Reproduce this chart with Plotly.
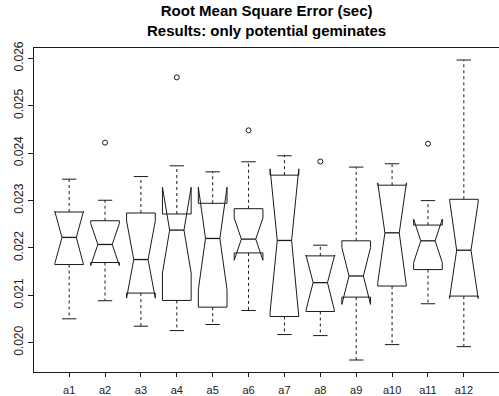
import plotly.graph_objects as go

# Summary statistics per group (seconds)
groups = ["a1", "a2", "a3", "a4", "a5", "a6", "a7", "a8", "a9", "a10", "a11", "a12"]
lower_whisker = [0.020502, 0.020884, 0.020346, 0.020254, 0.020382, 0.020678,
                 0.020170, 0.020148, 0.019633, 0.019958, 0.020820, 0.019915]
q1 = [0.021647, 0.021690, 0.021045, 0.020890, 0.020748, 0.021893,
      0.020551, 0.020657, 0.020960, 0.021194, 0.021541, 0.020982]
median = [0.022220, 0.022071, 0.021753, 0.022374, 0.022198, 0.022184,
          0.022156, 0.021266, 0.021406, 0.022317, 0.022148, 0.021950]
q3 = [0.022756, 0.022572, 0.022735, 0.022714, 0.022940, 0.022826,
      0.023534, 0.021830, 0.022148, 0.023322, 0.022480, 0.023025]
upper_whisker = [0.023449, 0.023004, 0.023504, 0.023731, 0.023604, 0.023816,
                 0.023943, 0.022056, 0.023704, 0.023774, 0.022996, 0.025964]
# half-length of the notch around the median (1.58 * IQR / sqrt(n))
notch_half = [0.000551, 0.000445, 0.000814, 0.000905, 0.001081, 0.000445,
              0.001512, 0.000583, 0.000600, 0.001054, 0.000460, 0.001018]
outlier_group = ["a2", "a4", "a6", "a8", "a11"]
outlier_value = [0.024220, 0.025597, 0.024480, 0.023822, 0.024198]

tick_values = [0.020, 0.021, 0.022, 0.023, 0.024, 0.025, 0.026]
tick_labels = ["0.020", "0.021", "0.022", "0.023", "0.024", "0.025", "0.026"]

title_lines = ["Root Mean Square Error (sec)", "Results: only potential geminates"]

W = 0.4  # half box width (boxwex 0.8)
INK = "#1a1a1a"
FONT = "Liberation Sans, Arial, Helvetica, sans-serif"

box_x, box_y = [], []
med_x, med_y = [], []
wh_x, wh_y = [], []
st_x, st_y = [], []
for i, g in enumerate(groups):
    x = i + 1
    nlo = median[i] - notch_half[i]
    nhi = median[i] + notch_half[i]
    box_x += [x - W, x - W, x - W / 2, x - W, x - W, x + W, x + W, x + W / 2, x + W, x + W, x - W, None]
    box_y += [q1[i], nlo, median[i], nhi, q3[i], q3[i], nhi, median[i], nlo, q1[i], q1[i], None]
    med_x += [x - W / 2, x + W / 2, None]
    med_y += [median[i], median[i], None]
    wh_x += [x, x, None, x, x, None]
    wh_y += [q1[i], lower_whisker[i], None, q3[i], upper_whisker[i], None]
    st_x += [x - W / 2, x + W / 2, None, x - W / 2, x + W / 2, None]
    st_y += [lower_whisker[i], lower_whisker[i], None, upper_whisker[i], upper_whisker[i], None]

fig = go.Figure()
fig.add_trace(go.Scatter(x=wh_x, y=wh_y, mode="lines",
                         line=dict(color=INK, width=1, dash="3px,3px")))
fig.add_trace(go.Scatter(x=st_x, y=st_y, mode="lines", line=dict(color=INK, width=1)))
fig.add_trace(go.Scatter(x=box_x, y=box_y, mode="lines", line=dict(color=INK, width=1)))
fig.add_trace(go.Scatter(x=med_x, y=med_y, mode="lines", line=dict(color=INK, width=1.3)))
fig.add_trace(go.Scatter(x=[groups.index(g) + 1 for g in outlier_group], y=outlier_value,
                         mode="markers",
                         marker=dict(symbol="circle-open", size=5, color=INK,
                                     line=dict(width=1, color=INK))))

all_vals = lower_whisker + upper_whisker + outlier_value
lo, hi = min(all_vals), max(all_vals)
pad = 0.04 * (hi - lo)
n = len(groups)
plot_h = 396 - 48 - 24

fig.update_layout(
    width=499, height=396,
    margin=dict(l=34, r=0, t=48, b=24),
    paper_bgcolor="white", plot_bgcolor="white",
    showlegend=False,
    font=dict(family=FONT, color=INK),
    xaxis=dict(range=[0.5 - 0.04 * n, n + 0.5 + 0.04 * n],
               tickmode="array", tickvals=list(range(1, n + 1)), ticktext=groups,
               ticks="outside", ticklen=4, tickcolor=INK, tickwidth=1,
               ticklabelstandoff=4,
               showline=True, linecolor=INK, linewidth=1, mirror=True,
               showgrid=False, zeroline=False,
               tickfont=dict(size=11, family=FONT, color=INK)),
    yaxis=dict(range=[lo - pad, hi + pad],
               tickmode="array", tickvals=tick_values, ticktext=tick_labels,
               tickangle=-90, ticks="outside", ticklen=5, tickcolor=INK, tickwidth=1,
               showline=True, linecolor=INK, linewidth=1,
               showgrid=False, zeroline=False,
               tickfont=dict(size=12, family=FONT, color=INK)),
    annotations=[
        dict(text="<br>".join(f"<b>{t}</b>" for t in title_lines),
             xref="paper", yref="paper",
             x=0.5, y=1 + 27.5 / plot_h, xanchor="center", yanchor="middle",
             showarrow=False, font=dict(size=15, family=FONT, color="black")),
    ],
)

fig.write_html("out.html")
